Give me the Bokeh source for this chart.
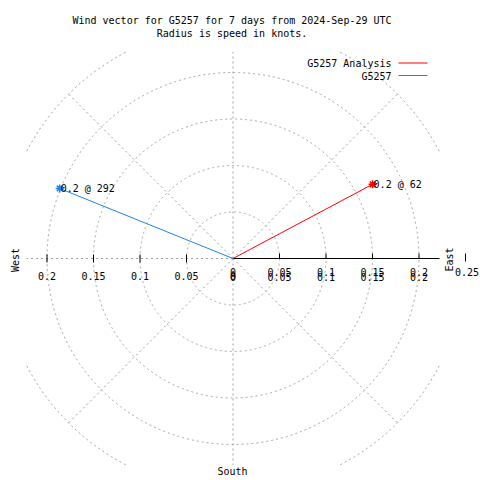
import numpy as np
from bokeh.plotting import figure
from bokeh.models import Range1d
from bokeh.core.properties import value
from bokeh.embed import file_html
from bokeh.resources import INLINE

# ---- data ----
series_names = ["G5257 Analysis", "G5257"]
series_colors = ["#ff0000", "#1f84e8"]
speeds = [0.17, 0.201]          # knots
directions = [62, 292]          # degrees (compass)
grid_radii = [0.05, 0.1, 0.15, 0.2, 0.25]
tick_values = [0, 0.05, 0.1, 0.15, 0.2]
tick_labels = ["0", "0.05", "0.1", "0.15", "0.2"]
title_lines = ["Wind vector for G5257 for 7 days from 2024-Sep-29 UTC",
               "Radius is speed in knots."]

# ---- geometry (reference pixel -> data) ----
W = H = 480
CX, CY, K = 232.5, 258.0, 930.0
def dx(X): return (X - CX) / K
def dy(Y): return (CY - Y) / K
CLIP = 0.222
FONT = value("DejaVu Sans Mono")
FS = "10px"

p = figure(width=W, height=H, x_range=Range1d(dx(0), dx(W)),
           y_range=Range1d(dy(H), dy(0)), output_backend="svg",
           toolbar_location=None, min_border=0)
p.axis.visible = False
p.grid.visible = False
p.outline_line_color = None
p.background_fill_color = "white"
p.border_fill_color = "white"

GRID = "#a0a0a0"
# circular grid, clipped to square
th = np.linspace(0, 2 * np.pi, 1441)
for r in grid_radii:
    x = r * np.cos(th)
    y = r * np.sin(th)
    m = (np.abs(x) > CLIP) | (np.abs(y) > CLIP)
    x[m] = np.nan
    y[m] = np.nan
    p.line(x, y, line_color=GRID, line_dash="2 3", line_width=1)
# radial grid
for a in range(0, 360, 45):
    ar = np.radians(a)
    c, s = np.cos(ar), np.sin(ar)
    rend = min(max(grid_radii), CLIP / max(abs(c), abs(s)))
    p.line([0, rend * c], [0, rend * s], line_color=GRID, line_dash="2 3", line_width=1)

# axis line on right
p.line([0, CLIP], [0, 0], line_color="black", line_width=1)
# ticks
for t in tick_values[1:]:
    p.segment(x0=[-t], y0=[dy(254)], x1=[-t], y1=[dy(262)], line_color="black")
    p.segment(x0=[t], y0=[dy(253)], x1=[t], y1=[dy(258)], line_color="black")
p.segment(x0=[0.25], y0=[dy(253)], x1=[0.25], y1=[dy(261)], line_color="black")

# tick labels
p.text(x=[-t for t in tick_values], y=[dy(275)] * len(tick_values), text=tick_labels,
       text_font=FONT, text_font_size=FS, text_align="center", text_baseline="middle")
p.text(x=tick_values, y=[dy(271)] * len(tick_values), text=tick_labels,
       text_font=FONT, text_font_size=FS, text_align="center", text_baseline="middle")
p.text(x=tick_values, y=[dy(276)] * len(tick_values), text=tick_labels,
       text_font=FONT, text_font_size=FS, text_align="center", text_baseline="middle")
p.text(x=[0.25 + dx(466.5) - dx(465)], y=[dy(271)], text=["0.25"],
       text_font=FONT, text_font_size=FS, text_align="center", text_baseline="middle")

# compass labels
p.text(x=[dx(15)], y=[dy(259.5)], text=["West"], angle=np.pi / 2,
       text_font=FONT, text_font_size=FS, text_align="center", text_baseline="middle")
p.text(x=[dx(449)], y=[dy(259)], text=["East"], angle=np.pi / 2,
       text_font=FONT, text_font_size=FS, text_align="center", text_baseline="middle")
p.text(x=[dx(232)], y=[dy(471)], text=["South"],
       text_font=FONT, text_font_size=FS, text_align="center", text_baseline="middle")

# title
p.text(x=[dx(231.5)] * 2, y=[dy(20), dy(33)], text=title_lines,
       text_font=FONT, text_font_size=FS, text_align="center", text_baseline="middle")

# vectors
for i, (sp, d) in enumerate(zip(speeds, directions)):
    ex = sp * np.sin(np.radians(d))
    ey = sp * np.cos(np.radians(d))
    col = series_colors[i]
    p.line([0, ex], [0, ey], line_color=col, line_width=1)
    p.scatter([ex], [ey], marker="asterisk", size=8, line_color=col, line_width=1.5)
    p.text(x=[ex + dx(233.5) - dx(232.5)], y=[ey], text=[f"{sp:.1f} @ {d}"],
           text_font=FONT, text_font_size=FS, text_align="left", text_baseline="middle")

# legend
for i, name in enumerate(series_names):
    Y = 63 + 12.5 * i
    p.text(x=[dx(391)], y=[dy(Y)], text=[name], text_font=FONT, text_font_size=FS,
           text_align="right", text_baseline="middle")
    p.line([dx(398), dx(427)], [dy(Y - 0.5), dy(Y - 0.5)], line_color=series_colors[i], line_width=1.2)

open("out.html", "w").write(file_html(p, INLINE))
